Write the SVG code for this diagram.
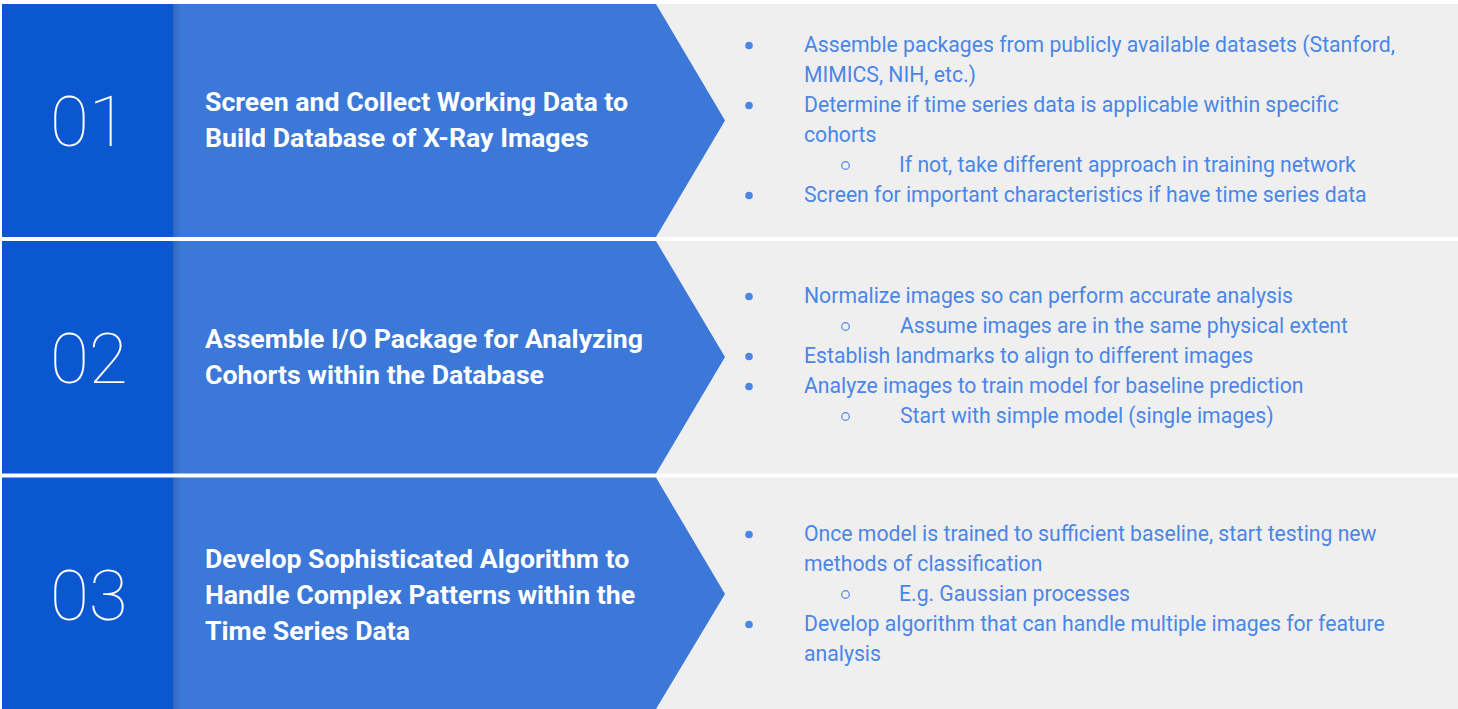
<svg xmlns="http://www.w3.org/2000/svg" width="1458" height="709" viewBox="0 0 1458 709">
<defs>
<linearGradient id="edge" x1="0" y1="0" x2="1" y2="0">
<stop offset="0" stop-color="#000" stop-opacity="0.14"/>
<stop offset="1" stop-color="#000" stop-opacity="0"/>
</linearGradient>
</defs>
<style>
.dark{fill:#0B57D0}
.mid{fill:#3C78D8}
.grey{fill:#EFEFEF}
.num{font-family:Roboto,"Liberation Sans",sans-serif;font-weight:100;font-size:71px;fill:#FFFFFF}
.title{font-family:Roboto,"Liberation Sans",sans-serif;font-weight:700;font-size:26.7px;fill:#FFFFFF}
.item{font-family:Roboto,"Liberation Sans",sans-serif;font-weight:400;font-size:21.2px;fill:#4A86E8}
.dot{fill:#4A86E8}
.ring{fill:none;stroke:#4A86E8;stroke-width:1.2}
</style>
<rect x="0" y="0" width="1458" height="709" fill="#FFFFFF"/>

<g id="row1">
<rect class="grey" x="650" y="4" width="808" height="233"/>
<rect class="dark" x="2" y="4" width="171" height="233"/>
<polygon class="mid" points="173,4 656,4 725,120.5 656,237 173,237"/>
<rect x="173" y="4" width="8" height="233" fill="url(#edge)"/>
<text class="num" x="50" y="146">01</text>
<text class="title" x="205" y="111">Screen and Collect Working Data to</text>
<text class="title" x="205" y="147">Build Database of X-Ray Images</text>
<circle class="dot" cx="749" cy="45.5" r="3.8"/>
<text class="item" x="804" y="52">Assemble packages from publicly available datasets (Stanford,</text>
<text class="item" x="804" y="82">MIMICS, NIH, etc.)</text>
<circle class="dot" cx="749" cy="105.5" r="3.8"/>
<text class="item" x="804" y="112">Determine if time series data is applicable within specific</text>
<text class="item" x="804" y="142">cohorts</text>
<circle class="ring" cx="845.5" cy="165.5" r="3.8"/>
<text class="item" x="899" y="172">If not, take different approach in training network</text>
<circle class="dot" cx="749" cy="195.5" r="3.8"/>
<text class="item" x="804" y="202">Screen for important characteristics if have time series data</text>
</g>

<g id="row2">
<rect class="grey" x="650" y="241" width="808" height="232.5"/>
<rect class="dark" x="2" y="241" width="171" height="232.5"/>
<polygon class="mid" points="173,241 656,241 725,357 656,473.5 173,473.5"/>
<rect x="173" y="241" width="8" height="232.5" fill="url(#edge)"/>
<text class="num" x="50" y="382.5">02</text>
<text class="title" x="205" y="347.5">Assemble I/O Package for Analyzing</text>
<text class="title" x="205" y="383.5">Cohorts within the Database</text>
<circle class="dot" cx="749" cy="296.5" r="3.8"/>
<text class="item" x="804" y="303">Normalize images so can perform accurate analysis</text>
<circle class="ring" cx="845.5" cy="326.5" r="3.8"/>
<text class="item" x="900" y="333">Assume images are in the same physical extent</text>
<circle class="dot" cx="749" cy="356.5" r="3.8"/>
<text class="item" x="804" y="363">Establish landmarks to align to different images</text>
<circle class="dot" cx="749" cy="386.5" r="3.8"/>
<text class="item" x="804" y="393">Analyze images to train model for baseline prediction</text>
<circle class="ring" cx="845.5" cy="416.5" r="3.8"/>
<text class="item" x="900" y="423">Start with simple model (single images)</text>
</g>

<g id="row3">
<rect class="grey" x="650" y="477.5" width="808" height="231.5"/>
<rect class="dark" x="2" y="477.5" width="171" height="231.5"/>
<polygon class="mid" points="173,477.5 656,477.5 725,594 656,709 173,709"/>
<rect x="173" y="477.5" width="8" height="231.5" fill="url(#edge)"/>
<text class="num" x="50" y="620">03</text>
<text class="title" x="205" y="568">Develop Sophisticated Algorithm to</text>
<text class="title" x="205" y="604">Handle Complex Patterns within the</text>
<text class="title" x="205" y="640">Time Series Data</text>
<circle class="dot" cx="749" cy="534.5" r="3.8"/>
<text class="item" x="804" y="541">Once model is trained to sufficient baseline, start testing new</text>
<text class="item" x="804" y="571">methods of classification</text>
<circle class="ring" cx="845.5" cy="594.5" r="3.8"/>
<text class="item" x="899" y="601">E.g. Gaussian processes</text>
<circle class="dot" cx="749" cy="624.5" r="3.8"/>
<text class="item" x="804" y="631">Develop algorithm that can handle multiple images for feature</text>
<text class="item" x="804" y="661">analysis</text>
</g>
</svg>
